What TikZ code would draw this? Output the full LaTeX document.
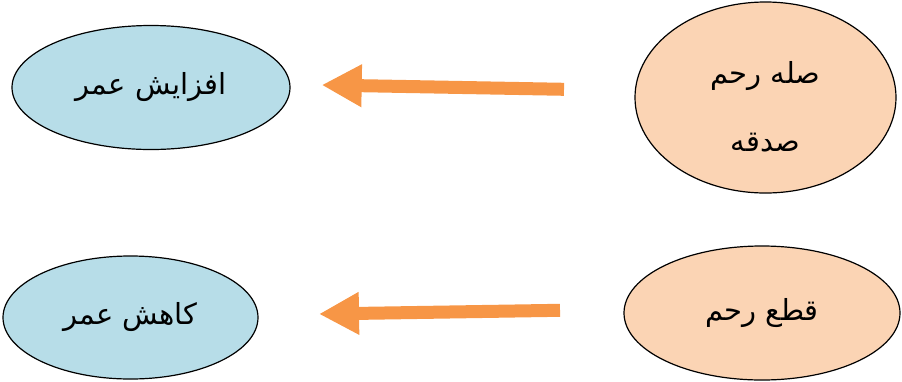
\documentclass[tikz,border=0pt]{standalone}
\usepackage{fontspec}
\usetikzlibrary{shapes.geometric,arrows.meta}
\TeXXeTstate=1
\newfontfamily\arabicfont[Script=Arabic]{DejaVu Sans}
\definecolor{lblue}{HTML}{B7DDE8}
\definecolor{lorange}{HTML}{FBD4B4}
\definecolor{arrorange}{HTML}{F79646}
\begin{document}
\begin{tikzpicture}[x=1pt,y=-1pt]
\tikzset{
  ovalbox/.style={ellipse, draw=black, line width=1.2pt, inner sep=0pt, align=center,
    font=\arabicfont\fontsize{29}{68}\selectfont},
  bluebox/.style={ovalbox, fill=lblue},
  orangebox/.style={ovalbox, fill=lorange},
  textonly/.style={inner sep=0pt, align=center, font=\arabicfont\fontsize{29}{68}\selectfont},
  bigarrow/.style={draw=arrorange, line width=13pt, -{Triangle[length=40pt,width=40pt]}}
}
\useasboundingbox (0,0) rectangle (902,381);
\node[bluebox, minimum width=278pt, minimum height=124pt] (inc) at (151,87.5) {\beginR افزایش عمر\endR};
\node[bluebox, minimum width=255pt, minimum height=123pt] (dec) at (130.5,317.5) {\beginR کاهش عمر\endR};
\node[orangebox, minimum width=261pt, minimum height=191pt] (sila) at (765.5,97.5) {};
\node[textonly] (silatext) at ([yshift=-9pt]sila.center) {\beginR صله رحم\endR\\\beginR صدقه\endR};
\node[orangebox, minimum width=276pt, minimum height=134pt] (qat) at (762,313) {\beginR قطع رحم\endR};
\coordinate (a1s) at (564,89.3);
\coordinate (a1e) at (321.7,85);
\coordinate (a2s) at (560,310.3);
\coordinate (a2e) at (319,314);
\draw[bigarrow] (a1s) -- (a1e);
\draw[bigarrow] (a2s) -- (a2e);
\end{tikzpicture}
\end{document}
